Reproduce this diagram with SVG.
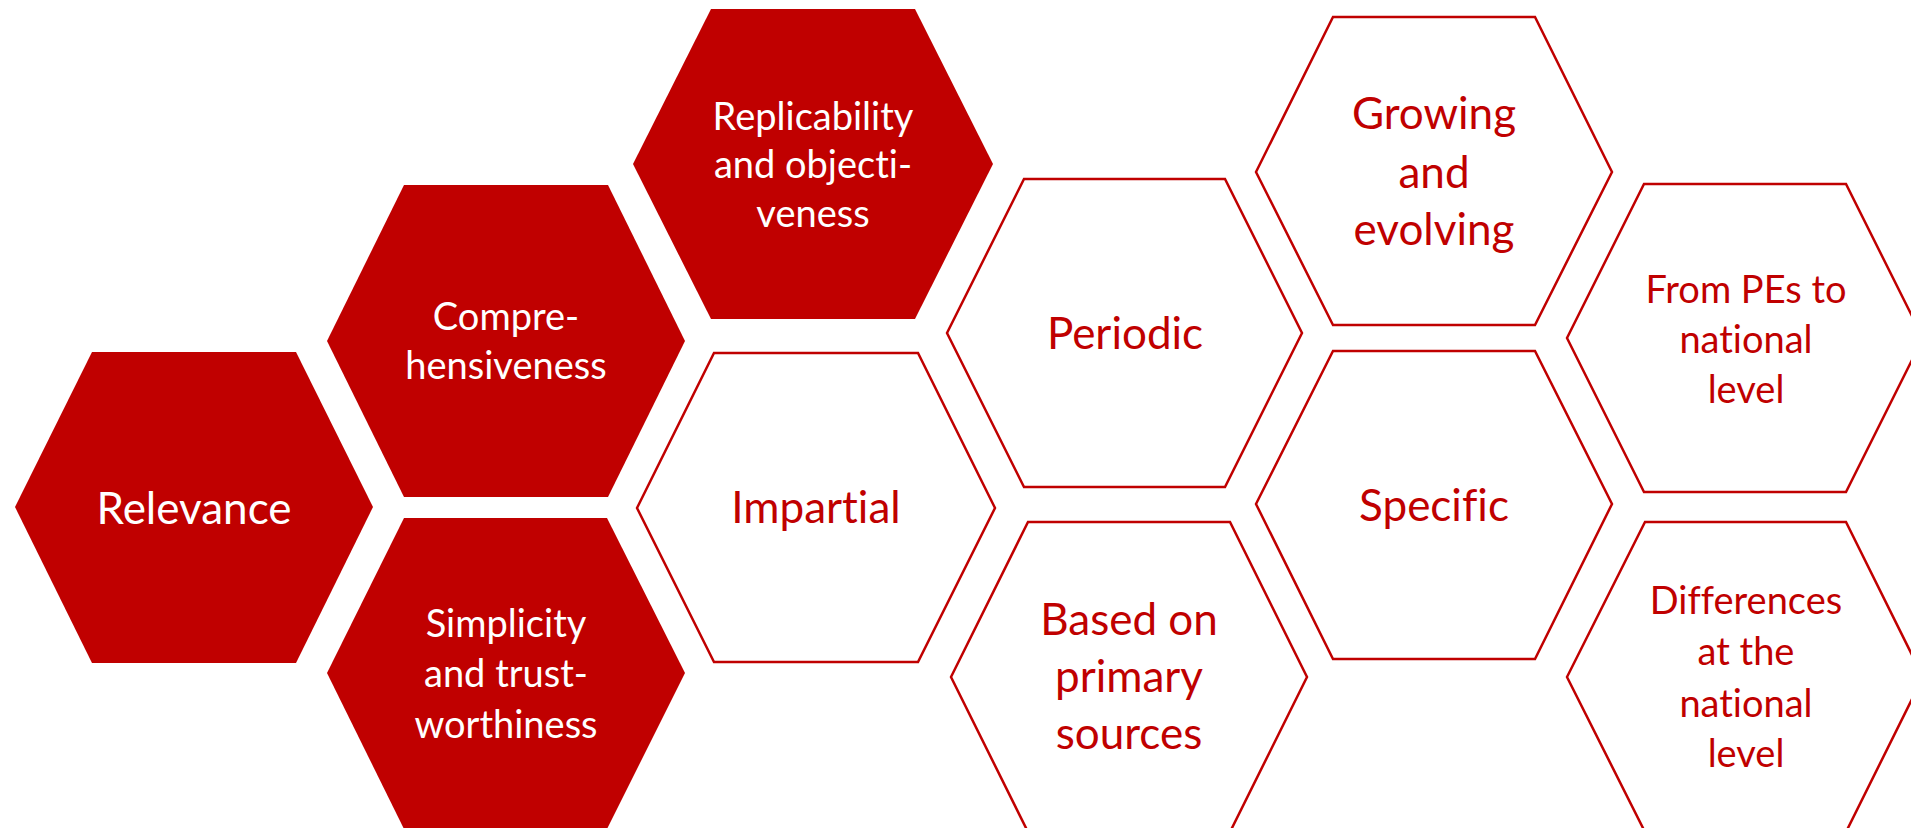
<svg xmlns="http://www.w3.org/2000/svg" width="1911" height="828" viewBox="0 0 1911 828">
<style>
.f{fill:#C00000;stroke:none}
.o{fill:#FFFFFF;stroke:#C00000;stroke-width:2.5;stroke-linejoin:miter}
text{font-family:Lato,"Liberation Sans",sans-serif;text-anchor:middle;font-variant-ligatures:none}
.w{fill:#FFFFFF}
.r{fill:#C00000}
.L{font-size:44px}
.M{font-size:38px}
</style>
<rect width="1911" height="828" fill="#FFFFFF"/>
<g id="connectors"/>
<g id="relevance">
<polygon class="f" points="15,507 92,352 296,352 373,507 296,663 92,663"/>
<text class="w L" x="194" y="524">Relevance</text>
</g>
<g id="comprehensiveness">
<polygon class="f" points="327,341 404,185 608,185 685,341 608,497 404,497"/>
<text class="w M" x="506" y="330">Compre-</text>
<text class="w M" x="506" y="379">hensiveness</text>
</g>
<g id="simplicity">
<polygon class="f" points="327,673 404,518 607,518 685,673 607,829 404,829"/>
<text class="w M" x="506" y="637">Simplicity</text>
<text class="w M" x="506" y="687">and trust-</text>
<text class="w M" x="506" y="738">worthiness</text>
</g>
<g id="replicability">
<polygon class="f" points="633,164 711,9 915,9 993,164 915,319 711,319"/>
<text class="w M" x="813" y="130">Replicability</text>
<text class="w M" x="813" y="178">and objecti-</text>
<text class="w M" x="813" y="227">veness</text>
</g>
<g id="impartial">
<polygon class="o" points="637,508 714,353 918,353 995,508 918,662 714,662"/>
<text class="r L" x="816" y="523">Impartial</text>
</g>
<g id="periodic">
<polygon class="o" points="947,333 1024,179 1225,179 1302,333 1225,487 1024,487"/>
<text class="r L" x="1125" y="349">Periodic</text>
</g>
<g id="primary-sources">
<polygon class="o" points="951,677 1028,522 1230,522 1307,677 1230,832 1028,832"/>
<text class="r L" x="1129" y="635">Based on</text>
<text class="r L" x="1129" y="692">primary</text>
<text class="r L" x="1129" y="749">sources</text>
</g>
<g id="growing">
<polygon class="o" points="1256,172 1333,17 1535,17 1612,172 1535,325 1333,325"/>
<text class="r L" x="1434" y="129">Growing</text>
<text class="r L" x="1434" y="188">and</text>
<text class="r L" x="1434" y="245">evolving</text>
</g>
<g id="specific">
<polygon class="o" points="1256,504 1333,351 1535,351 1612,504 1535,659 1333,659"/>
<text class="r L" x="1434" y="521">Specific</text>
</g>
<g id="pes-national">
<polygon class="o" points="1567,338 1644,184 1846,184 1923,338 1846,492 1644,492"/>
<text class="r M" x="1746" y="303">From PEs to</text>
<text class="r M" x="1746" y="353">national</text>
<text class="r M" x="1746" y="403">level</text>
</g>
<g id="differences">
<polygon class="o" points="1567,677 1645,522 1846,522 1923,677 1846,832 1645,832"/>
<text class="r M" x="1746" y="614">Differences</text>
<text class="r M" x="1746" y="665">at the</text>
<text class="r M" x="1746" y="717">national</text>
<text class="r M" x="1746" y="767">level</text>
</g>
</svg>
